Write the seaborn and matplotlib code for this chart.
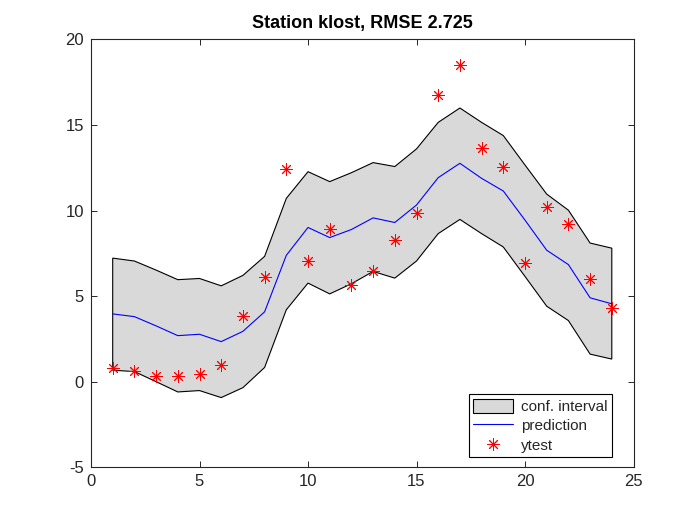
import numpy as np
import pandas as pd
import seaborn as sns
import matplotlib
matplotlib.use("Agg")
import matplotlib.pyplot as plt

# hours 1..24, values
hours = list(range(1, 25))
upper = [7.22, 7.05, 6.52, 5.96, 6.03, 5.60, 6.21, 7.32, 10.71, 12.27, 11.69, 12.21,
         12.80, 12.57, 13.60, 15.15, 15.99, 15.15, 14.38, 12.66, 10.96, 10.02, 8.10, 7.80]
lower = [0.67, 0.59, 0.00, -0.60, -0.52, -0.93, -0.35, 0.83, 4.20, 5.76, 5.13, 5.72,
         6.44, 6.05, 7.05, 8.65, 9.48, 8.65, 7.87, 6.15, 4.41, 3.57, 1.61, 1.32]
prediction = [3.96, 3.80, 3.26, 2.69, 2.77, 2.34, 2.94, 4.08, 7.38, 9.01, 8.42, 8.89,
              9.57, 9.30, 10.32, 11.92, 12.76, 11.88, 11.14, 9.44, 7.68, 6.84, 4.90, 4.55]
ytest = [0.81, 0.63, 0.34, 0.34, 0.46, 0.99, 3.86, 6.09, 12.43, 7.03, 8.91, 5.62,
         6.44, 8.26, 9.85, 16.77, 18.53, 13.66, 12.55, 6.91, 10.20, 9.20, 5.97, 4.33]

df = pd.DataFrame({"hour": hours, "upper": upper, "lower": lower,
                   "prediction": prediction, "ytest": ytest})

sns.set_theme(style="ticks")
plt.rcParams["font.family"] = ["Liberation Sans", "DejaVu Sans"]
plt.rcParams["axes.unicode_minus"] = False

fig = plt.figure(figsize=(7, 5.25), dpi=100)
ax = fig.add_axes([0.13, 0.11, 0.775, 0.815])

# confidence band as a closed polygon, like matlab's fill
band_x = list(df["hour"]) + list(df["hour"][::-1])
band_y = list(df["upper"]) + list(df["lower"][::-1])
ax.fill(band_x, band_y, facecolor="#d9d9d9", edgecolor="black", linewidth=0.8,
        label="conf. interval")

sns.lineplot(data=df, x="hour", y="prediction", color="blue", linewidth=0.8,
             label="prediction", ax=ax)
sns.scatterplot(data=df, x="hour", y="ytest", marker=(8, 2, 0), color="red",
                edgecolor="red", s=70, linewidth=0.7, label="ytest", ax=ax, zorder=3)

ax.set_xlim(0, 25)
ax.set_ylim(-5, 20)
ax.set_xticks(range(0, 26, 5))
ax.set_yticks(range(-5, 21, 5))
ax.set_xlabel("")
ax.set_ylabel("")
ax.tick_params(direction="in", length=4, width=0.7, top=True, right=True,
               labelsize=12, colors="#262626", pad=5)
for s in ax.spines.values():
    s.set_visible(True)
    s.set_linewidth(0.8)
    s.set_color("#262626")

ax.set_title("Station klost, RMSE 2.725", fontsize=13, fontweight="bold", pad=8,
             color="black")

leg = ax.legend(loc="lower right", bbox_to_anchor=(0.96, 0.023), borderaxespad=0,
                fontsize=11, fancybox=False, edgecolor="black", framealpha=1,
                handlelength=2.6, handleheight=1.1, borderpad=0.3, labelspacing=0.25,
                handletextpad=0.5)
leg.get_frame().set_linewidth(0.8)

fig.savefig("out.png", dpi=100)
